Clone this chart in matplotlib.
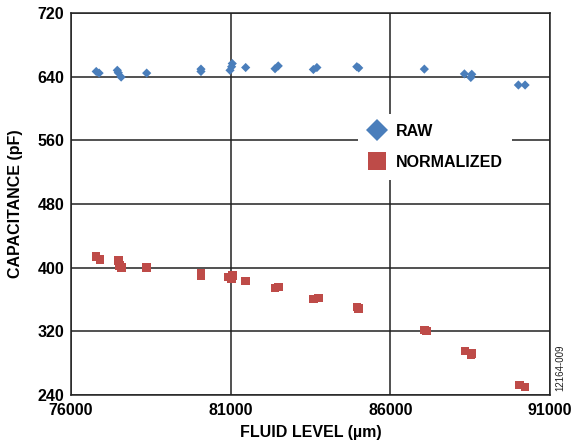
import matplotlib
matplotlib.use("Agg")
import matplotlib.pyplot as plt
from matplotlib.lines import Line2D

plt.rcParams['font.family'] = ['Liberation Sans', 'DejaVu Sans']

raw_x = [76790, 76880, 77450, 77480, 77570, 78370, 80070, 80070, 80980, 81030, 81050,
         81470, 82390, 82490, 83590, 83700, 84950, 85010, 87065, 88320, 88520, 88550, 90010, 90220]
raw_y = [646.5, 644.5, 648.0, 645.0, 639.5, 644.5, 646.5, 649.5, 648.0, 652.5, 656.5,
         651.5, 650.0, 653.5, 649.0, 651.5, 652.5, 651.0, 649.5, 643.5, 639.0, 643.0, 629.5, 629.5]

norm_x = [76780, 76910, 77480, 77520, 77590, 78370, 80070, 80070, 80930, 81030, 81060,
          81470, 82390, 82490, 83590, 83745, 84950, 85010, 87065, 87140, 88340, 88520, 88550, 90040, 90220]
norm_y = [414.0, 410.5, 409.0, 403.0, 400.0, 400.0, 389.5, 393.0, 388.5, 386.5, 390.5,
          383.5, 374.5, 375.5, 360.5, 362.0, 350.5, 348.5, 321.5, 320.5, 295.5, 290.5, 292.0, 252.5, 250.0]

xticks = [76000, 81000, 86000, 91000]
yticks = [240, 320, 400, 480, 560, 640, 720]

blue = '#4a7ebb'
red = '#be4b48'

fig = plt.figure(figsize=(5.71, 4.43), dpi=100)
ax = fig.add_axes([71/571, 48/443, 479/571, 382/443])

ax.scatter(raw_x, raw_y, marker='D', s=22, color=blue, edgecolors='none', zorder=3)
ax.scatter(norm_x, norm_y, marker='s', s=38, color=red, edgecolors='none', zorder=3)

ax.set_xlim(76000, 91000)
ax.set_ylim(240, 720)
ax.set_xticks(xticks)
ax.set_yticks(yticks)
ax.set_xticklabels([str(v) for v in xticks], fontsize=11.5, fontweight='bold')
ax.set_yticklabels([str(v) for v in yticks], fontsize=11.5, fontweight='bold')
ax.tick_params(axis='x', length=0, pad=6)
ax.tick_params(axis='y', length=0, pad=5)
for lbl in ax.get_yticklabels():
    lbl.set_verticalalignment('center_baseline')
ax.grid(True, color='#222222', linewidth=1.1, zorder=1)
ax.set_axisbelow(True)
for s in ax.spines.values():
    s.set_linewidth(1.1)
    s.set_color('#222222')

ax.set_xlabel('FLUID LEVEL (µm)', fontsize=11.5, fontweight='bold', labelpad=5)
ax.set_ylabel('CAPACITANCE (pF)', fontsize=11.5, fontweight='bold', labelpad=10)

handles = [
    Line2D([], [], marker='D', linestyle='none', color=blue, markersize=11, markeredgewidth=0),
    Line2D([], [], marker='s', linestyle='none', color=red, markersize=12.5, markeredgewidth=0),
]
leg = ax.legend(handles, ['RAW', 'NORMALIZED'], loc='center left',
                bbox_to_anchor=(279/479, (395-147)/382), frameon=True,
                prop={'weight': 'bold', 'size': 11.5}, handlelength=1.2,
                handletextpad=0.55, labelspacing=1.0, borderpad=0.6)
leg.get_frame().set_facecolor('white')
leg.get_frame().set_edgecolor('none')
leg.get_frame().set_alpha(1)
leg.get_frame().set_boxstyle('square', pad=0)

fig.text(560/571, 1 - 368/443, '12164-009', rotation=90, fontsize=7,
         ha='center', va='center', color='#222222')

fig.savefig('out.png', dpi=100)
